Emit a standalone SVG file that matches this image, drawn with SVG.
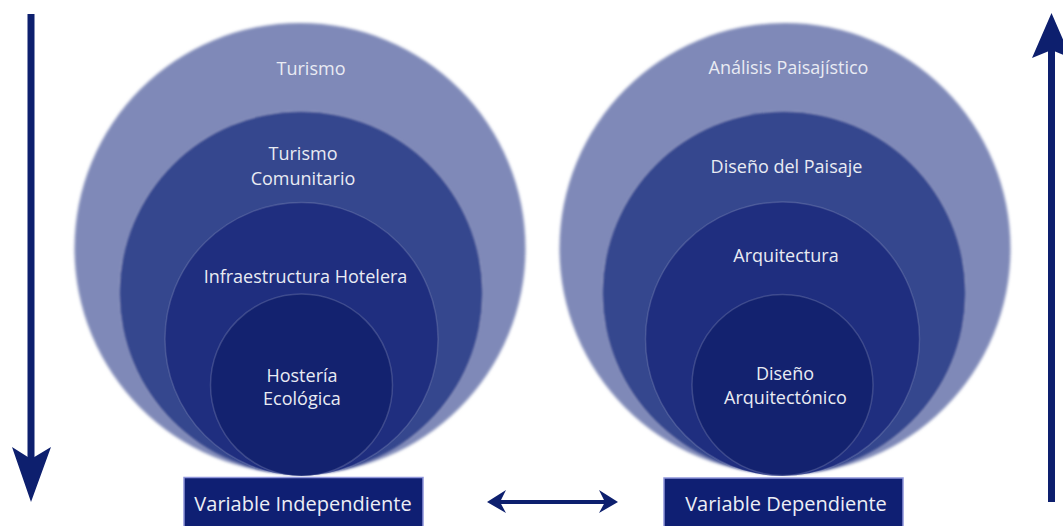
<svg xmlns="http://www.w3.org/2000/svg" width="1063" height="526" viewBox="0 0 1063 526">
<style>
.lbl{font-family:"Open Sans","Liberation Sans",sans-serif;font-size:18px;fill:#e9ebf3;text-anchor:middle}
.box{fill:#0f1f73;stroke:#8f95da;stroke-width:1.5}
.btxt{font-family:"Open Sans","Liberation Sans",sans-serif;font-size:20px;fill:#eceef6;text-anchor:middle}
.c1{fill:#7f89b8}
.c2{fill:#35468e;stroke:rgba(255,255,255,0.12);stroke-width:1.5}
.c3{fill:#1f2e7f;stroke:rgba(255,255,255,0.14);stroke-width:1.5}
.c4{fill:#13226f;stroke:rgba(255,255,255,0.16);stroke-width:1.5}
.arr{fill:#0d1f6e}
.shaft{stroke:#0d1f6e;fill:none}
</style>
<defs>
<filter id="soft" x="-5%" y="-5%" width="110%" height="110%"><feGaussianBlur stdDeviation="1.6"/></filter>
<filter id="soft2" x="-5%" y="-5%" width="110%" height="110%"><feGaussianBlur stdDeviation="0.9"/></filter>
</defs>
<rect width="1063" height="526" fill="#ffffff"/>

<g id="left-circles">
<g id="turismo"><circle class="c1" cx="300" cy="248.5" r="225.5" filter="url(#soft)"/><text class="lbl" x="311" y="75">Turismo</text></g>
<g id="turismo-comunitario"><circle class="c2" cx="301" cy="293" r="181.5" filter="url(#soft2)"/><text class="lbl" x="303" y="160">Turismo</text><text class="lbl" x="303" y="185">Comunitario</text></g>
<g id="infraestructura-hotelera"><circle class="c3" cx="301.5" cy="339" r="136.5"/><text class="lbl" x="305.5" y="283">Infraestructura Hotelera</text></g>
<g id="hosteria-ecologica"><circle class="c4" cx="301.5" cy="385" r="91"/><text class="lbl" x="302" y="382">Hostería</text><text class="lbl" x="302" y="405">Ecológica</text></g>
</g>

<g id="right-circles">
<g id="analisis-paisajistico"><circle class="c1" cx="785" cy="248.5" r="225.5" filter="url(#soft)"/><text class="lbl" x="788.5" y="74">Análisis Paisajístico</text></g>
<g id="diseno-paisaje"><circle class="c2" cx="784" cy="293" r="181.5" filter="url(#soft2)"/><text class="lbl" x="786.5" y="173">Diseño del Paisaje</text></g>
<g id="arquitectura"><circle class="c3" cx="782.5" cy="339" r="137"/><text class="lbl" x="786" y="262">Arquitectura</text></g>
<g id="diseno-arquitectonico"><circle class="c4" cx="782.5" cy="385" r="90.5"/><text class="lbl" x="785" y="380">Diseño</text><text class="lbl" x="785.5" y="404">Arquitectónico</text></g>
</g>

<g id="variable-independiente"><rect class="box" x="184" y="477.5" width="239" height="52"/><text class="btxt" x="303" y="511">Variable Independiente</text></g>
<g id="variable-dependiente"><rect class="box" x="664" y="478" width="239" height="52"/><text class="btxt" x="786" y="511">Variable Dependiente</text></g>

<g id="connectors">
<line class="shaft" x1="31" y1="14" x2="31" y2="462" stroke-width="7"/>
<polygon class="arr" points="31,502 12,447 31,459 51,447"/>
<line class="shaft" x1="1051.5" y1="50" x2="1051.5" y2="502" stroke-width="7"/>
<polygon class="arr" points="1051.5,13 1032,58 1051.5,50 1071,58"/>
<line class="shaft" x1="500" y1="502" x2="605" y2="502" stroke-width="4"/>
<polygon class="arr" points="487,502 506,490 500,502 506,513"/>
<polygon class="arr" points="618,502 599,490 605,502 599,513"/>
</g>
</svg>
